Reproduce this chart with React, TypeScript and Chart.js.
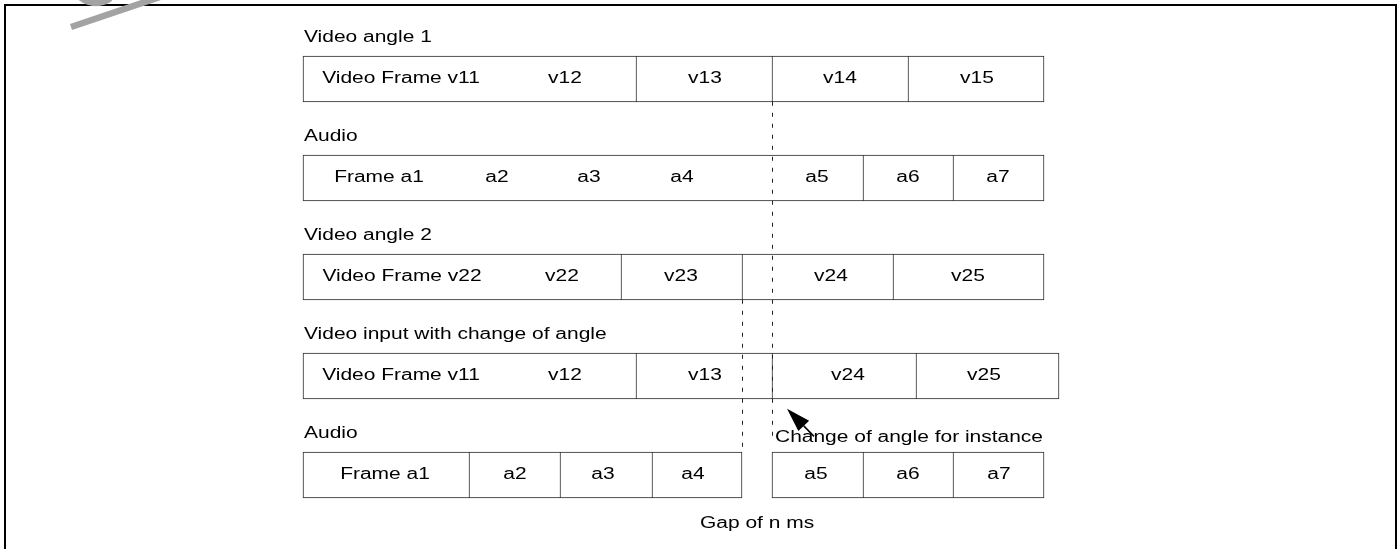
import React, { useEffect, useRef } from 'react';
import { Chart, registerables } from 'chart.js';

Chart.register(...registerables);

// ---- data (timeline units, 0 = start of every stream) ----
const ROW_TITLES = ['Video angle 1', 'Audio', 'Video angle 2', 'Video input with change of angle', 'Audio'];

const V1_FRAMES = [[0, 333], [333, 469], [469, 605], [605, 741]];
const V1_TEXT = ['Video Frame v11', 'v12', 'v13', 'v14', 'v15'];
const V1_TEXT_AT = [98, 262, 402, 537, 674];

const A1_FRAMES = [[0, 560], [560, 650], [650, 741]];
const A1_TEXT = ['Frame a1', 'a2', 'a3', 'a4', 'a5', 'a6', 'a7'];
const A1_TEXT_AT = [76, 194, 286, 379, 514, 605, 695];

const V2_FRAMES = [[0, 318], [318, 439], [439, 590], [590, 741]];
const V2_TEXT = ['Video Frame v22', 'v22', 'v23', 'v24', 'v25'];
const V2_TEXT_AT = [99, 259, 378, 528, 665];

const SW_FRAMES = [[0, 333], [333, 469], [469, 613], [613, 756]];
const SW_TEXT = ['Video Frame v11', 'v12', 'v13', 'v24', 'v25'];
const SW_TEXT_AT = [98, 262, 402, 545, 681];

const A2_FRAMES = [[0, 166], [166, 257], [257, 349], [349, 439], [469, 560], [560, 650], [650, 741]];
const A2_TEXT = ['Frame a1', 'a2', 'a3', 'a4', 'a5', 'a6', 'a7'];
const A2_TEXT_AT = [82, 212, 300, 390, 513, 605, 696];

// dashed markers: angle switch point and start of the audio gap
const DASH_X = [469, 439];
const DASH_FROM = [0.23, 2.23];
const DASH_TO = [3.62, 3.77];

const NOTE_TEXT = 'Change of angle for instance';
const NOTE_AT = [472, 3.67];
const GAP_TEXT = 'Gap of n ms';
const GAP_AT = [397, 4.535];
const ARROW_FROM = [511, 3.61];
const ARROW_TO = [484, 3.33];

const ROW_FRAMES = [V1_FRAMES, A1_FRAMES, V2_FRAMES, SW_FRAMES, A2_FRAMES];
const ROW_TEXT = [V1_TEXT, A1_TEXT, V2_TEXT, SW_TEXT, A2_TEXT];
const ROW_TEXT_AT = [V1_TEXT_AT, A1_TEXT_AT, V2_TEXT_AT, SW_TEXT_AT, A2_TEXT_AT];

// ---- layout ----
const W = 1400;
const H = 549;
const X_MIN = -303;
const X_MAX = X_MIN + W;
const FONT = '16px "Liberation Sans", Arial, sans-serif';
const SX = 1.31; // horizontal stretch of the original artwork
const INK = '#000';
const LINE = '#2a2a2a';

const bars: { x: number[]; y: number; last: boolean }[] = [];
ROW_FRAMES.forEach((frames, lane) => {
  frames.forEach((f, i) => {
    const next = frames[i + 1];
    bars.push({ x: [f[0], f[1]], y: lane, last: !next || next[0] !== f[1] });
  });
});

function drawText(ctx: CanvasRenderingContext2D, text: string, x: number, y: number, align: CanvasTextAlign, base: CanvasTextBaseline) {
  ctx.save();
  ctx.translate(x, y);
  ctx.scale(SX, 1);
  ctx.font = FONT;
  ctx.fillStyle = INK;
  ctx.textAlign = align;
  ctx.textBaseline = base;
  ctx.fillText(text, 0, 0);
  ctx.restore();
}

const diagramPlugin = {
  id: 'diagram',
  afterDatasetsDraw(chart: any) {
    const ctx: CanvasRenderingContext2D = chart.ctx;
    const xs = chart.scales.x;
    const ys = chart.scales.y;
    const px = (v: number) => xs.getPixelForValue(v);
    const py = (v: number) => ys.getPixelForValue(v);

    ROW_TITLES.forEach((t, lane) => {
      drawText(ctx, t, px(1), py(lane) - 37, 'left', 'alphabetic');
      ROW_TEXT[lane].forEach((s, i) => {
        drawText(ctx, s, px(ROW_TEXT_AT[lane][i]), py(lane), 'center', 'middle');
      });
    });
    drawText(ctx, NOTE_TEXT, px(NOTE_AT[0]), py(NOTE_AT[1]), 'left', 'alphabetic');
    drawText(ctx, GAP_TEXT, px(GAP_AT[0]), py(GAP_AT[1]), 'left', 'alphabetic');

    // arrow
    const x0 = px(ARROW_FROM[0]);
    const y0 = py(ARROW_FROM[1]);
    const x1 = px(ARROW_TO[0]);
    const y1 = py(ARROW_TO[1]);
    const ang = Math.atan2(y1 - y0, x1 - x0);
    const len = 24;
    const hw = 7.5;
    const bx = x1 - Math.cos(ang) * len;
    const by = y1 - Math.sin(ang) * len;
    ctx.save();
    ctx.strokeStyle = INK;
    ctx.lineWidth = 1.5;
    ctx.beginPath();
    ctx.moveTo(x0, y0);
    ctx.lineTo(bx, by);
    ctx.stroke();
    ctx.fillStyle = INK;
    ctx.beginPath();
    ctx.moveTo(x1, y1);
    ctx.lineTo(bx + Math.sin(ang) * hw, by - Math.cos(ang) * hw);
    ctx.lineTo(bx - Math.sin(ang) * hw, by + Math.cos(ang) * hw);
    ctx.closePath();
    ctx.fill();
    ctx.restore();
  },
  afterDraw(chart: any) {
    const ctx: CanvasRenderingContext2D = chart.ctx;
    ctx.save();
    // page frame
    ctx.strokeStyle = '#000';
    ctx.lineWidth = 2;
    ctx.strokeRect(5, 5, 1391, 700);
    // faint watermark stroke in the corner
    ctx.strokeStyle = '#a3a3a3';
    ctx.lineWidth = 6.5;
    ctx.beginPath();
    ctx.moveTo(71, 27);
    ctx.lineTo(160, -3);
    ctx.stroke();
    ctx.beginPath();
    ctx.ellipse(96, -13, 20, 16, 0, 0.25 * Math.PI, 0.85 * Math.PI);
    ctx.stroke();
    ctx.restore();
  },
};

export default function App() {
  const ref = useRef<HTMLCanvasElement | null>(null);
  useEffect(() => {
    if (!ref.current) return;
    const dashSets = DASH_X.map((x, i) => ({
      type: 'line' as const,
      order: 1,
      data: [
        { x: x + 0.5, y: DASH_FROM[i] },
        { x: x + 0.5, y: DASH_TO[i] },
      ],
      borderColor: '#222',
      borderWidth: 1,
      borderDash: [4, 7],
      pointRadius: 0,
      fill: false,
      clip: false,
    }));
    const chart = new Chart(ref.current, {
      type: 'bar',
      data: {
        datasets: [
          {
            type: 'bar',
            order: 2,
            data: bars.map((b) => ({ x: b.x, y: b.y })) as any,
            backgroundColor: '#fff',
            borderColor: LINE,
            borderSkipped: false,
            borderWidth: (c: any) => {
              const b = bars[c.dataIndex];
              return { top: 1, bottom: 1, left: 1, right: b && b.last ? 1 : 0 };
            },
            barThickness: 46,
            grouped: false,
          } as any,
          ...(dashSets as any),
        ],
      },
      options: {
        indexAxis: 'y',
        responsive: false,
        animation: false,
        events: [],
        layout: { padding: { top: 29.5, bottom: 24.5, left: 0, right: 0 } },
        plugins: { legend: { display: false }, tooltip: { enabled: false }, title: { display: false } },
        scales: {
          x: { type: 'linear', min: X_MIN, max: X_MAX, display: false, offset: false },
          y: { type: 'linear', min: -0.5, max: 4.5, reverse: true, display: false, offset: false },
        },
      } as any,
      plugins: [diagramPlugin],
    });
    return () => chart.destroy();
  }, []);
  return (
    <div style={{ position: 'absolute', left: 0, top: 0, width: W, height: H, background: '#fff' }}>
      <canvas ref={ref} width={W} height={H} style={{ display: 'block', width: W, height: H }} />
    </div>
  );
}
